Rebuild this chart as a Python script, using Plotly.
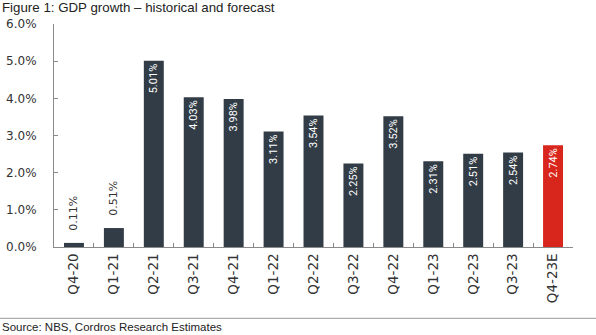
import plotly.graph_objects as go

categories = ["Q4-20", "Q1-21", "Q2-21", "Q3-21", "Q4-21", "Q1-22", "Q2-22",
              "Q3-22", "Q4-22", "Q1-23", "Q2-23", "Q3-23", "Q4-23E"]
gdp_growth = [0.11, 0.51, 5.01, 4.03, 3.98, 3.11, 3.54, 2.25, 3.52, 2.31, 2.51, 2.54, 2.74]
y_ticks = [0, 1, 2, 3, 4, 5, 6]

DARK = "#323c46"
RED = "#d9261c"
colors = [RED if c.endswith("E") else DARK for c in categories]
positions = ["outside" if v < 1 else "inside" for v in gdp_growth]
labels = [("\u00a0\u00a0\u2009" if v < 1 else "") + f"{v:.2f}%" for v in gdp_growth]

fig = go.Figure(go.Bar(
    x=categories, y=gdp_growth,
    marker=dict(color=colors, line=dict(width=0)),
    text=labels, textposition=positions, textangle=-90,
    insidetextanchor="end", cliponaxis=False, constraintext="none",
    outsidetextfont=dict(family="DejaVu Sans", size=11, color="#333333"),
    insidetextfont=dict(family="Roboto", size=11, color="white"),
))

fig.update_layout(
    width=596, height=335,
    margin=dict(l=54, r=23, t=24, b=88),
    plot_bgcolor="white", paper_bgcolor="white",
    bargap=0.5, showlegend=False,
    font=dict(family="DejaVu Sans", size=11, color="#333333"),
)
fig.update_yaxes(
    range=[0, 6], tickvals=y_ticks, ticktext=[f"{t:.1f}%" for t in y_ticks],
    showgrid=False, zeroline=False, showline=True, linecolor="#8a8a8a", linewidth=1,
    ticks="inside", ticklen=4, tickcolor="#8a8a8a", ticklabelstandoff=14,
    automargin=False,
    tickfont=dict(family="DejaVu Sans", size=12, color="#333333"),
)
fig.update_xaxes(
    showgrid=False, showline=True, linecolor="#8a8a8a", linewidth=1,
    ticks="inside", ticklen=4, tickcolor="#8a8a8a", tickson="boundaries",
    tickangle=-90, automargin=False,
    tickfont=dict(family="DejaVu Sans", size=13.5, color="#333333"),
)

H = 223
fig.add_annotation(text="Figure 1: GDP growth \u2013 historical and forecast",
                   xref="paper", yref="paper", x=-54/519, y=1 + (24 - 7.5) / H,
                   xanchor="left", yanchor="middle", showarrow=False,
                   font=dict(family="Liberation Sans", size=13.3, color="#222222"))
fig.add_annotation(text="Source: NBS, Cordros Research Estimates",
                   xref="paper", yref="paper", x=-54/519, y=-(327 - 247) / H,
                   xanchor="left", yanchor="middle", showarrow=False,
                   font=dict(family="Liberation Sans", size=11.5, color="#222222"))
fig.add_shape(type="line", xref="paper", yref="paper",
              x0=-54/519, x1=(596 - 54) / 519, y0=-(318.3 - 247) / H, y1=-(318.3 - 247) / H,
              line=dict(color="#999999", width=1))

fig.write_html("out.html")
